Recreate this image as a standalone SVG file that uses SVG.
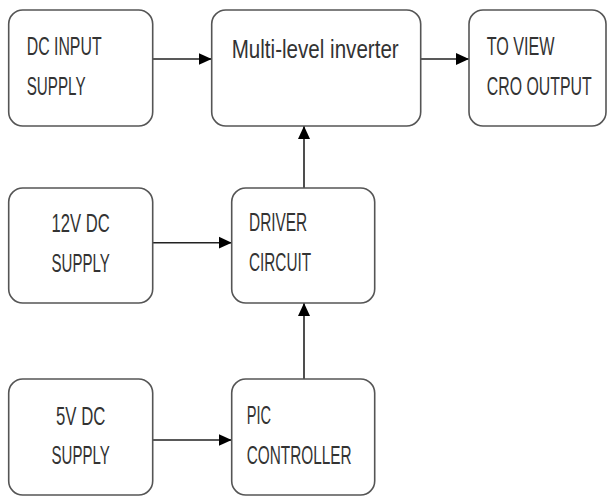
<svg xmlns="http://www.w3.org/2000/svg" width="608" height="496" viewBox="0 0 608 496">
<style>
.box{fill:#fff;stroke:#555;stroke-width:1.6}
.t{font-family:"Liberation Sans",Arial,sans-serif;font-size:25px;fill:#333}
.c{text-anchor:middle}
.ln{stroke:#222;stroke-width:1.6;fill:none}
</style>
<defs>
<marker id="ah" markerUnits="userSpaceOnUse" markerWidth="14" markerHeight="14" viewBox="0 0 14 14" refX="13" refY="7" orient="auto">
<path d="M0,1 L13,7 L0,13 Z" fill="#000"/>
</marker>
</defs>
<rect width="608" height="496" fill="#fff"/>
<g id="connectors">
<line class="ln" x1="152.7" y1="59" x2="211.7" y2="59" marker-end="url(#ah)"/>
<line class="ln" x1="420.7" y1="59" x2="469" y2="59" marker-end="url(#ah)"/>
<line class="ln" x1="152.7" y1="242.7" x2="231.7" y2="242.7" marker-end="url(#ah)"/>
<line class="ln" x1="152.7" y1="440" x2="231.7" y2="440" marker-end="url(#ah)"/>
<line class="ln" x1="304" y1="188" x2="304" y2="126" marker-end="url(#ah)"/>
<line class="ln" x1="304" y1="379" x2="304" y2="303" marker-end="url(#ah)"/>
</g>
<g id="dc-input">
<rect class="box" x="8.7" y="10" width="144" height="116" rx="14"/>
<text class="t" transform="translate(26.7,55) scale(0.64,1)" textLength="117" lengthAdjust="spacingAndGlyphs">DC INPUT</text>
<text class="t" transform="translate(26.7,95) scale(0.64,1)" textLength="92" lengthAdjust="spacingAndGlyphs">SUPPLY</text>
</g>
<g id="inverter">
<rect class="box" x="211.7" y="10" width="209" height="116" rx="14"/>
<text class="t" transform="translate(231.7,58) scale(0.64,1)" textLength="261" lengthAdjust="spacingAndGlyphs">Multi-level inverter</text>
</g>
<g id="cro">
<rect class="box" x="469" y="10" width="137" height="116" rx="14"/>
<text class="t" transform="translate(486.7,55) scale(0.64,1)" textLength="106" lengthAdjust="spacingAndGlyphs">TO VIEW</text>
<text class="t" transform="translate(486.7,95) scale(0.64,1)" textLength="164" lengthAdjust="spacingAndGlyphs">CRO OUTPUT</text>
</g>
<g id="dc12">
<rect class="box" x="8.7" y="188" width="144" height="115" rx="14"/>
<text class="t c" transform="translate(80.7,231.7) scale(0.64,1)" textLength="91" lengthAdjust="spacingAndGlyphs">12V DC</text>
<text class="t c" transform="translate(80.7,271.7) scale(0.64,1)" textLength="91" lengthAdjust="spacingAndGlyphs">SUPPLY</text>
</g>
<g id="driver">
<rect class="box" x="231.7" y="188" width="143" height="115" rx="14"/>
<text class="t" transform="translate(249,231) scale(0.64,1)" textLength="91" lengthAdjust="spacingAndGlyphs">DRIVER</text>
<text class="t" transform="translate(249,271) scale(0.64,1)" textLength="97" lengthAdjust="spacingAndGlyphs">CIRCUIT</text>
</g>
<g id="dc5">
<rect class="box" x="8.7" y="379" width="144" height="116" rx="14"/>
<text class="t c" transform="translate(80.7,425) scale(0.64,1)" textLength="77" lengthAdjust="spacingAndGlyphs">5V DC</text>
<text class="t c" transform="translate(80.7,464) scale(0.64,1)" textLength="91" lengthAdjust="spacingAndGlyphs">SUPPLY</text>
</g>
<g id="pic">
<rect class="box" x="231.7" y="379" width="143" height="116" rx="14"/>
<text class="t" transform="translate(246.7,424) scale(0.64,1)" textLength="38" lengthAdjust="spacingAndGlyphs">PIC</text>
<text class="t" transform="translate(246.7,464) scale(0.64,1)" textLength="164" lengthAdjust="spacingAndGlyphs">CONTROLLER</text>
</g>
</svg>
